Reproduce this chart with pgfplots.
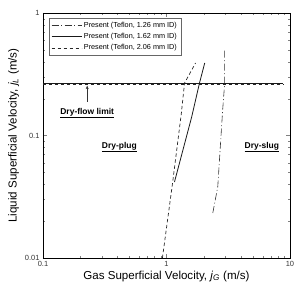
\documentclass[border=0pt]{standalone}
\usepackage{pgfplots}
\pgfplotsset{compat=1.18}
\usepackage{fontspec}
\setmainfont{Liberation Sans}
\usetikzlibrary{arrows.meta}
\begin{document}
\begin{tikzpicture}
\useasboundingbox (-43bp,-32bp) rectangle (255bp,258bp);
\begin{axis}[
  scale only axis, width=247bp, height=245bp,
  xmode=log, ymode=log,
  xmin=0.1, xmax=10, ymin=0.01, ymax=1,
  tick align=inside,
  xtick={0.1,1,10}, xticklabels={0.1,1,10},
  ytick={0.01,0.1,1}, yticklabels={0.01,0.1,1},
  tick label style={font=\fontsize{7.5}{8}\selectfont, text=black!80},
  xlabel={Gas Superficial Velocity, \textit{j}\textsubscript{\textit{G}} (m/s)},
  ylabel={Liquid Superficial Velocity, \textit{j}\textsubscript{\textit{L}} (m/s)},
  label style={font=\fontsize{11.6}{13}\selectfont},
  xlabel style={yshift=3bp},
  ylabel style={yshift=-1bp},
  axis line style={line width=0.9pt},
  major tick length=4bp, minor tick length=2.5bp,
  legend style={at={(0.024,0.98)}, anchor=north west, draw=black!60,
    font=\fontsize{7.3}{9}\selectfont, row sep=0.5bp, inner sep=2bp},
  legend cell align=left,
  legend image code/.code={\draw[#1] (0bp,0bp) -- (30bp,0bp);},
]
\addplot[black!80, line width=0.6pt, dash pattern=on 7bp off 2.5bp on 1bp off 2.5bp] coordinates {
 (2.37,0.0233) (2.60,0.038) (2.85,0.162) (2.96,0.268) (2.96,0.50)};
\addlegendentry{Present (Teflon, 1.26 mm ID)}
\addplot[black!90, line width=0.8pt] coordinates {
 (1.16,0.0417) (1.60,0.142) (1.85,0.268) (2.04,0.391)};
\addlegendentry{Present (Teflon, 1.62 mm ID)}
\addplot[black!85, line width=0.7pt, dash pattern=on 3.5bp off 2.5bp] coordinates {
 (0.927,0.01) (1.12,0.041) (1.32,0.153) (1.40,0.268) (1.72,0.391)};
\addlegendentry{Present (Teflon, 2.06 mm ID)}
\addplot[black!90, line width=0.8pt, forget plot] coordinates {(0.1,0.268) (8.8,0.268)};
\addplot[black!85, line width=0.7pt, dash pattern=on 3.5bp off 2.5bp, forget plot, yshift=-0.8bp] coordinates {(0.1,0.268) (8.8,0.268)};
\node[font=\fontsize{8.5}{10}\selectfont\bfseries] at (axis cs:0.228,0.153) {\underline{Dry-flow limit}};
\draw[-{Stealth[length=3.5bp,width=3bp]}, black!80, line width=0.5pt] (axis cs:0.228,0.188) -- (axis cs:0.228,0.255);
\node[font=\fontsize{8.5}{10}\selectfont\bfseries] at (axis cs:0.415,0.0805) {\underline{Dry-plug}};
\node[font=\fontsize{8.5}{10}\selectfont\bfseries] at (axis cs:5.92,0.0805) {\underline{Dry-slug}};
\end{axis}
\end{tikzpicture}
\end{document}
